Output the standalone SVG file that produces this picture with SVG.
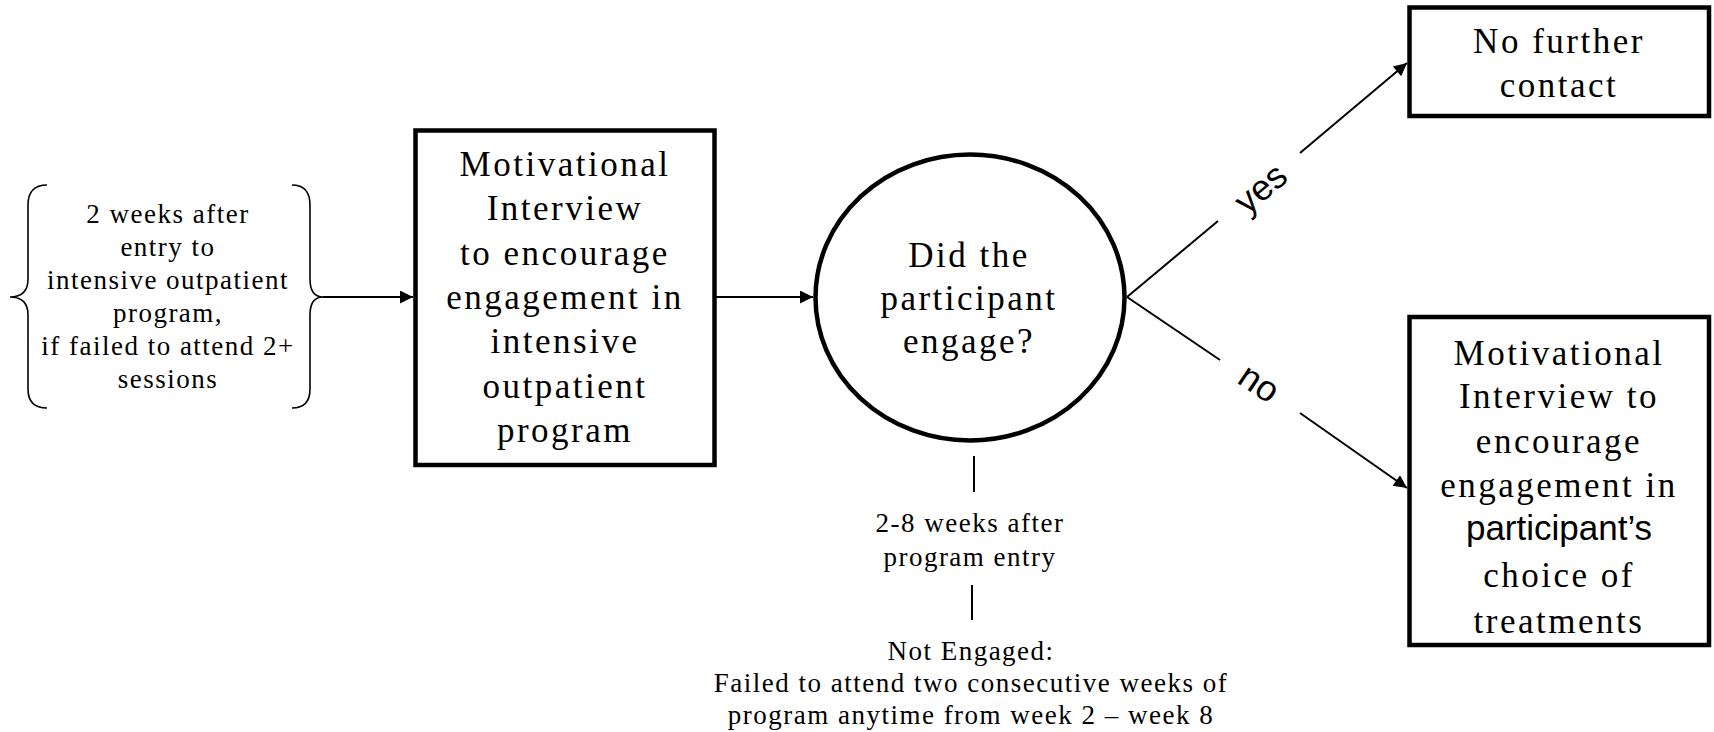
<svg xmlns="http://www.w3.org/2000/svg" width="1714" height="732" viewBox="0 0 1714 732">
<style>
.node{fill:#fff;stroke:#000;stroke-width:4.5}
.b{font-family:"Liberation Serif","Times New Roman",serif;font-size:35px;letter-spacing:2.5px;fill:#000;text-anchor:middle}
.s{font-family:"Liberation Serif","Times New Roman",serif;font-size:27px;letter-spacing:1.5px;fill:#000;text-anchor:middle}
.lab{font-family:"Liberation Sans",Arial,sans-serif;font-size:36px;fill:#000;text-anchor:middle}
.sans{font-family:"Liberation Sans",Arial,sans-serif;letter-spacing:0}
.c{stroke:#000;stroke-width:2;fill:none}
.brace{stroke:#000;stroke-width:1.6;fill:none}
</style>
<defs>
<marker id="arr" viewBox="0 0 10 10" refX="10" refY="5" markerUnits="userSpaceOnUse" markerWidth="15" markerHeight="13" orient="auto">
<path d="M0,0 L10,5 L0,10 z" fill="#000"/>
</marker>
</defs>
<rect width="1714" height="732" fill="#fff"/>

<g id="start">
<path class="brace" d="M47,185 Q28,185 28,205 L28,279 Q28,297 10,297 Q28,297 28,315 L28,389 Q28,408 47,408"/>
<path class="brace" d="M292,185 Q310,185 310,205 L310,279 Q310,297 323,297 Q310,297 310,315 L310,389 Q310,408 292,408"/>
<text class="s" x="168" y="223">2 weeks after</text>
<text class="s" x="168" y="256">entry to</text>
<text class="s" x="168" y="289">intensive outpatient</text>
<text class="s" x="168" y="322">program,</text>
<text class="s" x="168" y="355">if failed to attend 2+</text>
<text class="s" x="168" y="388">sessions</text>
</g>

<g id="mi1">
<rect class="node" x="415.5" y="130.5" width="299" height="334.5"/>
<text class="b" x="565" y="176">Motivational</text>
<text class="b" x="565" y="220">Interview</text>
<text class="b" x="565" y="265">to encourage</text>
<text class="b" x="565" y="309">engagement in</text>
<text class="b" x="565" y="353">intensive</text>
<text class="b" x="565" y="398">outpatient</text>
<text class="b" x="565" y="442">program</text>
</g>

<g id="decision">
<ellipse class="node" cx="970" cy="297.5" rx="154.5" ry="143"/>
<text class="b" x="969" y="267">Did the</text>
<text class="b" x="969" y="310">participant</text>
<text class="b" x="969" y="353">engage?</text>
</g>

<g id="nofurther">
<rect class="node" x="1409.5" y="7.5" width="299.5" height="108.5"/>
<text class="b" x="1559" y="53">No further</text>
<text class="b" x="1559" y="97">contact</text>
</g>

<g id="mi2">
<rect class="node" x="1409.5" y="317" width="299.5" height="328"/>
<text class="b" x="1559" y="365">Motivational</text>
<text class="b" x="1559" y="408">Interview to</text>
<text class="b" x="1559" y="453">encourage</text>
<text class="b" x="1559" y="497">engagement in</text>
<text class="b sans" x="1559" y="540" font-size="36">participant’s</text>
<text class="b" x="1559" y="587">choice of</text>
<text class="b" x="1559" y="633">treatments</text>
</g>

<g id="timing">
<text class="s" x="970" y="532">2-8 weeks after</text>
<text class="s" x="970" y="566">program entry</text>
</g>

<g id="notengaged">
<text class="s" x="971" y="660">Not Engaged:</text>
<text class="s" x="971" y="692">Failed to attend two consecutive weeks of</text>
<text class="s" x="971" y="724">program anytime from week 2 – week 8</text>
</g>

<g id="connectors">
<line class="c" x1="323" y1="297" x2="413" y2="297" marker-end="url(#arr)"/>
<line class="c" x1="716" y1="297" x2="813" y2="297" marker-end="url(#arr)"/>
<line class="c" x1="1127" y1="297" x2="1218" y2="221"/>
<line class="c" x1="1300" y1="153" x2="1407" y2="63" marker-end="url(#arr)"/>
<line class="c" x1="1127" y1="297" x2="1220" y2="360"/>
<line class="c" x1="1300" y1="413" x2="1407" y2="488" marker-end="url(#arr)"/>
<line class="c" x1="974" y1="456" x2="974" y2="492" stroke-width="1.6"/>
<line class="c" x1="972" y1="585" x2="972" y2="620" stroke-width="1.6"/>
<text class="lab" transform="translate(1262,190) rotate(-40)" x="0" y="10">yes</text>
<text class="lab" transform="translate(1258,385) rotate(34)" x="0" y="10">no</text>
</g>
</svg>
